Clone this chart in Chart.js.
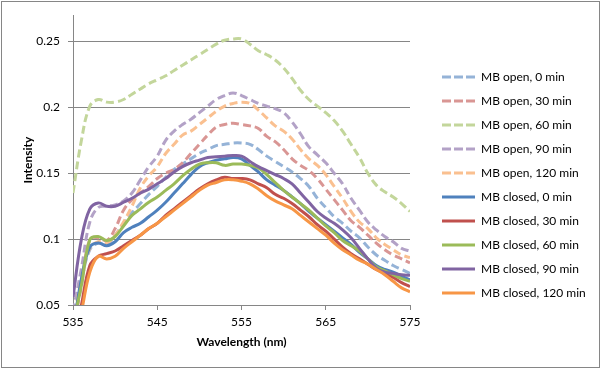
<!DOCTYPE html>
<html>
<head>
<meta charset="utf-8">
<script src="https://cdn.jsdelivr.net/npm/chart.js@4/dist/chart.umd.min.js"></script>
<style>
  html, body { margin: 0; padding: 0; background: #fff; }
  #wrap { position: relative; width: 602px; height: 369px; }
  #frame { position: absolute; left: 1px; top: 1px; width: 597px; height: 365px; border: 1px solid #868686; pointer-events: none; }
</style>
</head>
<body>
<div id="wrap">
  <canvas id="spektrum" width="602" height="369"></canvas>
  <div id="frame"></div>
</div>
<script>
// Panjang gelombang (nm)
const wavelengths = [535, 536, 537, 538, 539, 540, 541, 542, 543, 544, 545, 546, 547, 548, 549, 550, 551, 552, 553, 554, 555,
  556, 557, 558, 559, 560, 561, 562, 563, 564, 565, 566, 567, 568, 569, 570, 571, 572, 573, 574, 575];

// MB open (garis putus-putus)
const open0 = [0.035, 0.068, 0.092, 0.097, 0.096, 0.103, 0.112, 0.120, 0.127, 0.134, 0.140, 0.147, 0.153, 0.157, 0.161, 0.165, 0.168, 0.171, 0.172, 0.173, 0.173,
  0.172, 0.168, 0.163, 0.159, 0.155, 0.151, 0.146, 0.140, 0.131, 0.124, 0.117, 0.112, 0.106, 0.101, 0.094, 0.088, 0.084, 0.080, 0.077, 0.074];
const open30 = [0.030, 0.065, 0.100, 0.101, 0.099, 0.108, 0.122, 0.130, 0.135, 0.140, 0.146, 0.150, 0.153, 0.158, 0.165, 0.172, 0.179, 0.185, 0.187, 0.188, 0.187,
  0.186, 0.184, 0.178, 0.174, 0.168, 0.161, 0.156, 0.152, 0.146, 0.138, 0.130, 0.122, 0.114, 0.109, 0.103, 0.097, 0.092, 0.088, 0.085, 0.082];
const open60 = [0.135, 0.175, 0.201, 0.206, 0.204, 0.204, 0.206, 0.210, 0.214, 0.218, 0.221, 0.224, 0.228, 0.232, 0.236, 0.240, 0.244, 0.248, 0.251, 0.252, 0.252,
  0.248, 0.243, 0.240, 0.236, 0.230, 0.222, 0.213, 0.206, 0.201, 0.196, 0.190, 0.182, 0.172, 0.162, 0.150, 0.141, 0.136, 0.132, 0.127, 0.121];
const open90 = [0.045, 0.078, 0.113, 0.124, 0.125, 0.126, 0.129, 0.135, 0.145, 0.155, 0.163, 0.175, 0.182, 0.187, 0.191, 0.196, 0.201, 0.206, 0.209, 0.211, 0.209,
  0.206, 0.203, 0.201, 0.199, 0.196, 0.189, 0.180, 0.170, 0.164, 0.158, 0.150, 0.142, 0.131, 0.122, 0.113, 0.107, 0.102, 0.098, 0.093, 0.091];
const open120 = [0.035, 0.070, 0.093, 0.098, 0.097, 0.103, 0.113, 0.125, 0.139, 0.148, 0.155, 0.165, 0.172, 0.179, 0.182, 0.187, 0.192, 0.197, 0.201, 0.203, 0.204,
  0.203, 0.198, 0.192, 0.186, 0.182, 0.176, 0.168, 0.161, 0.156, 0.149, 0.140, 0.131, 0.121, 0.113, 0.108, 0.101, 0.096, 0.092, 0.088, 0.086];

// MB closed (garis utuh)
const closed0 = [0.030, 0.070, 0.094, 0.097, 0.095, 0.098, 0.105, 0.109, 0.112, 0.117, 0.122, 0.128, 0.135, 0.142, 0.149, 0.155, 0.158, 0.160, 0.161, 0.162, 0.161,
  0.156, 0.151, 0.145, 0.141, 0.137, 0.132, 0.127, 0.121, 0.116, 0.111, 0.106, 0.101, 0.096, 0.090, 0.085, 0.080, 0.077, 0.075, 0.072, 0.069];
const closed30 = [0.020, 0.050, 0.080, 0.087, 0.089, 0.091, 0.095, 0.099, 0.103, 0.108, 0.112, 0.118, 0.123, 0.128, 0.133, 0.138, 0.142, 0.145, 0.147, 0.146, 0.146,
  0.145, 0.142, 0.139, 0.134, 0.131, 0.127, 0.122, 0.117, 0.111, 0.106, 0.100, 0.094, 0.089, 0.085, 0.081, 0.077, 0.074, 0.071, 0.067, 0.064];
const closed60 = [0.035, 0.065, 0.0996, 0.102, 0.099, 0.102, 0.110, 0.118, 0.123, 0.128, 0.132, 0.137, 0.142, 0.148, 0.153, 0.157, 0.158, 0.158, 0.156, 0.157, 0.157,
  0.156, 0.154, 0.149, 0.143, 0.137, 0.132, 0.127, 0.122, 0.116, 0.110, 0.105, 0.099, 0.095, 0.091, 0.085, 0.079, 0.076, 0.073, 0.070, 0.068];
const closed90 = [0.056, 0.100, 0.123, 0.1275, 0.125, 0.125, 0.128, 0.131, 0.135, 0.138, 0.142, 0.146, 0.151, 0.155, 0.158, 0.160, 0.162, 0.1625, 0.163, 0.1635, 0.163,
  0.159, 0.155, 0.152, 0.149, 0.146, 0.142, 0.135, 0.128, 0.121, 0.116, 0.112, 0.107, 0.101, 0.093, 0.085, 0.078, 0.075, 0.074, 0.073, 0.0725];
const closed120 = [0.020, 0.045, 0.075, 0.087, 0.085, 0.087, 0.093, 0.098, 0.103, 0.108, 0.112, 0.117, 0.122, 0.127, 0.132, 0.137, 0.141, 0.143, 0.145, 0.145, 0.144,
  0.142, 0.138, 0.133, 0.129, 0.126, 0.123, 0.118, 0.113, 0.108, 0.103, 0.097, 0.092, 0.088, 0.084, 0.081, 0.077, 0.073, 0.068, 0.063, 0.060];

const seriesNames = ['MB open, 0 min', 'MB open, 30 min', 'MB open, 60 min', 'MB open, 90 min', 'MB open, 120 min',
  'MB closed, 0 min', 'MB closed, 30 min', 'MB closed, 60 min', 'MB closed, 90 min', 'MB closed, 120 min'];
const seriesValues = [open0, open30, open60, open90, open120, closed0, closed30, closed60, closed90, closed120];
const seriesColors = ['#95b3d7', '#d99694', '#c3d69b', '#b3a2c7', '#fac090',
  '#4f81bd', '#c0504d', '#9bbb59', '#8064a2', '#f79646'];

const xTicks = [535, 545, 555, 565, 575];
const yTicks = [0.05, 0.1, 0.15, 0.2, 0.25];

const gridColor = '#868686';
const fontName = 'Lato, "Liberation Sans", sans-serif';

Chart.defaults.color = '#000';
Chart.defaults.font.family = fontName;
Chart.defaults.font.size = 12;

const datasets = seriesNames.map((nama, i) => ({
  label: nama,
  data: wavelengths.map((w, j) => ({ x: w, y: seriesValues[i][j] })),
  borderColor: seriesColors[i],
  backgroundColor: seriesColors[i],
  borderWidth: 3,
  borderDash: i < 5 ? [8, 4] : [],
  pointRadius: 0,
  tension: 0.4,
  fill: false,
  order: 10 - i   // seri terakhir digambar paling atas (seperti Excel)
}));

// Geser legenda agar posisinya sama dengan gambar asli
const geserLegenda = {
  id: 'geserLegenda',
  afterInit(chart) {
    const lg = chart.legend;
    const fitAsli = lg.fit.bind(lg);
    lg.fit = function() { fitAsli(); this.width = 192; };
    const drawAsli = lg.draw.bind(lg);
    lg.draw = function() {
      const ctx = chart.ctx;
      ctx.save();
      ctx.translate(20, 3);
      drawAsli();
      ctx.restore();
    };
  }
};

new Chart(document.getElementById('spektrum'), {
  type: 'line',
  data: { datasets: datasets },
  plugins: [geserLegenda],
  options: {
    responsive: false,
    animation: false,
    layout: { padding: { left: 21, top: 15, right: 0, bottom: 20 } },
    scales: {
      x: {
        type: 'linear',
        min: 535, max: 575,
        afterFit(s) { s.height = 44; },
        afterBuildTicks(s) { s.ticks = xTicks.map(v => ({ value: v })); },
        grid: { drawOnChartArea: false, tickLength: 5, color: gridColor },
        border: { color: gridColor, width: 1 },
        ticks: { padding: 5, maxRotation: 0, font: { size: 12 } },
        title: { display: true, text: 'Wavelength (nm)', font: { size: 12, weight: 'bold' }, padding: { top: 0, bottom: 0 } }
      },
      y: {
        min: 0.05, max: 0.27,
        afterFit(s) { s.width = 52; },
        afterBuildTicks(s) { s.ticks = yTicks.map(v => ({ value: v })); },
        grid: { tickLength: 5, color: gridColor },
        border: { color: gridColor, width: 1 },
        ticks: { padding: 8, font: { size: 12 }, callback: v => String(+v.toFixed(2)) },
        title: { display: true, text: 'Intensity', font: { size: 12, weight: 'bold' }, padding: { top: 0, bottom: 0 } }
      }
    },
    plugins: {
      tooltip: { enabled: false },
      legend: {
        position: 'right',
        labels: {
          usePointStyle: true,
          pointStyle: 'line',
          pointStyleWidth: 33,
          boxHeight: 12,
          padding: 12,
          color: '#000',
          font: { size: 12 },
          sort: (a, b) => a.datasetIndex - b.datasetIndex,
          generateLabels(chart) {
            const items = Chart.defaults.plugins.legend.labels.generateLabels(chart);
            return items.map(it => {
              const ds = chart.data.datasets[it.datasetIndex];
              it.lineDash = ds.borderDash.length ? [9, 3] : [];
              it.lineWidth = ds.borderWidth;
              it.strokeStyle = ds.borderColor;
              it.lineCap = 'butt';
              return it;
            });
          }
        }
      }
    }
  }
});
</script>
</body>
</html>
